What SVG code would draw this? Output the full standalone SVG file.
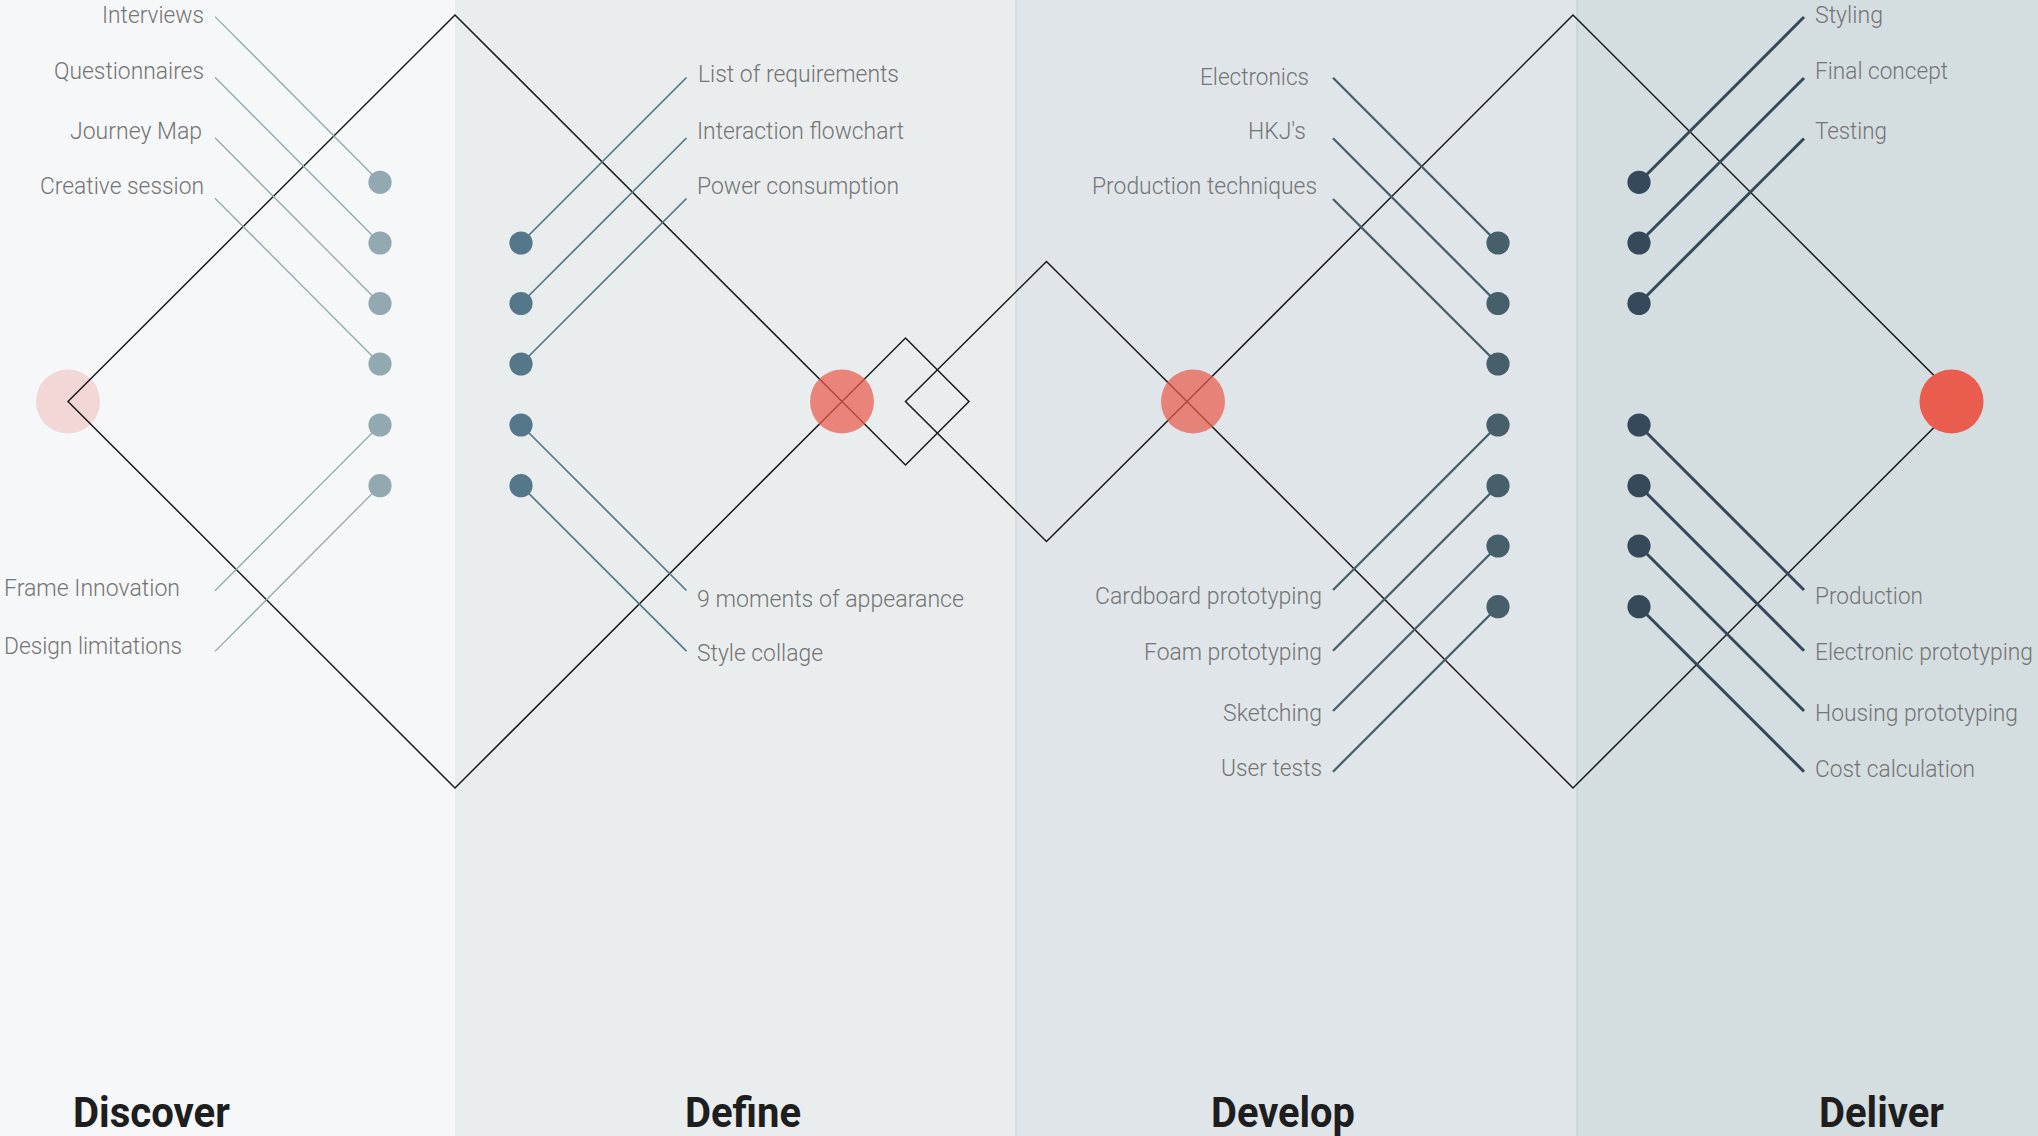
<svg xmlns="http://www.w3.org/2000/svg" width="2038" height="1136" viewBox="0 0 2038 1136">
<style>
.lbl{font-family:Roboto,"Liberation Sans",sans-serif;font-weight:300;font-size:24.5px;fill:#747474}
.end{text-anchor:end}
.ttl{font-family:Roboto,"Liberation Sans",sans-serif;font-weight:700;font-size:42px;fill:#1e1e1e}
.dia{fill:none;stroke:#1a1a1a;stroke-width:1.5;stroke-linejoin:miter}
.l1{stroke:#93a9b1;stroke-width:1.3}
.l2{stroke:#54788a;stroke-width:1.7}
.l3{stroke:#475f6b;stroke-width:2.3}
.l4{stroke:#35495a;stroke-width:3}
.d1{fill:#93a9b1}
.d2{fill:#54788a}
.d3{fill:#475f6b}
.d4{fill:#35495a}
</style>
<g id="background">
<rect x="0" y="0" width="455" height="1136" fill="#f5f7f8"/>
<rect x="455" y="0" width="561" height="1136" fill="#e9edee"/>
<rect x="1016" y="0" width="561" height="1136" fill="#dfe5e8"/>
<rect x="1577" y="0" width="461" height="1136" fill="#d4dde0"/>
<line x1="1016" y1="0" x2="1016" y2="1136" stroke="#d2dce2" stroke-width="1.5"/>
<line x1="1577" y1="0" x2="1577" y2="1136" stroke="#c8d2d7" stroke-width="1.5"/>
</g>
<g id="start-circle"><circle cx="68" cy="401.5" r="32" fill="#f3d6d6"/></g>
<g id="diamonds">
<path class="dia" d="M68,401.5 L455,15 L842,401.5 L455,788 Z"/>
<path class="dia" d="M842,401.5 L905.5,338 L969,401.5 L905.5,465 Z"/>
<path class="dia" d="M905.5,401.5 L1046.5,261.5 L1187,401.5 L1046.5,541.5 Z"/>
<path class="dia" d="M1187,401.5 L1573,15 L1960,401.5 L1573,788 Z"/>
</g>
<g id="connectors">
<line class="l1" x1="215" y1="16.6" x2="380" y2="182.3"/>
<line class="l1" x1="215" y1="77.3" x2="380" y2="243"/>
<line class="l1" x1="215" y1="137.8" x2="380" y2="303.5"/>
<line class="l1" x1="215" y1="198.3" x2="380" y2="364"/>
<line class="l1" x1="215" y1="590.7" x2="380" y2="425"/>
<line class="l1" x1="215" y1="651.4" x2="380" y2="485.7"/>
<line class="l2" x1="521" y1="243" x2="686.5" y2="77.5"/>
<line class="l2" x1="521" y1="303.5" x2="686.5" y2="138"/>
<line class="l2" x1="521" y1="364" x2="686.5" y2="198.5"/>
<line class="l2" x1="521" y1="425" x2="686.5" y2="590.5"/>
<line class="l2" x1="521" y1="485.7" x2="686.5" y2="651.2"/>
<line class="l3" x1="1333" y1="77.7" x2="1498" y2="243"/>
<line class="l3" x1="1333" y1="138.3" x2="1498" y2="303.5"/>
<line class="l3" x1="1333" y1="199" x2="1498" y2="364"/>
<line class="l3" x1="1333" y1="590" x2="1498" y2="425"/>
<line class="l3" x1="1333" y1="650.7" x2="1498" y2="485.7"/>
<line class="l3" x1="1333" y1="711" x2="1498" y2="546"/>
<line class="l3" x1="1333" y1="771.7" x2="1498" y2="606.7"/>
<line class="l4" x1="1639" y1="182.3" x2="1804" y2="17"/>
<line class="l4" x1="1639" y1="243" x2="1804" y2="78"/>
<line class="l4" x1="1639" y1="303.5" x2="1804" y2="138.5"/>
<line class="l4" x1="1639" y1="425" x2="1804" y2="590"/>
<line class="l4" x1="1639" y1="485.7" x2="1804" y2="650.7"/>
<line class="l4" x1="1639" y1="546" x2="1804" y2="711"/>
<line class="l4" x1="1639" y1="606.7" x2="1804" y2="771.7"/>
</g>
<g id="discover-nodes">
<circle class="d1" cx="380" cy="182.3" r="11.6"/>
<circle class="d1" cx="380" cy="243" r="11.6"/>
<circle class="d1" cx="380" cy="303.5" r="11.6"/>
<circle class="d1" cx="380" cy="364" r="11.6"/>
<circle class="d1" cx="380" cy="425" r="11.6"/>
<circle class="d1" cx="380" cy="485.7" r="11.6"/>
<text class="lbl end" x="204" y="23.3" textLength="102" lengthAdjust="spacingAndGlyphs">Interviews</text>
<text class="lbl end" x="204" y="78.8" textLength="150" lengthAdjust="spacingAndGlyphs">Questionnaires</text>
<text class="lbl end" x="202" y="139.3" textLength="132" lengthAdjust="spacingAndGlyphs">Journey Map</text>
<text class="lbl end" x="204" y="194.3" textLength="164" lengthAdjust="spacingAndGlyphs">Creative session</text>
<text class="lbl" x="4" y="595.7" textLength="176" lengthAdjust="spacingAndGlyphs">Frame Innovation</text>
<text class="lbl" x="4" y="654.3" textLength="178" lengthAdjust="spacingAndGlyphs">Design limitations</text>
</g>
<g id="define-nodes">
<circle class="d2" cx="521" cy="243" r="11.6"/>
<circle class="d2" cx="521" cy="303.5" r="11.6"/>
<circle class="d2" cx="521" cy="364" r="11.6"/>
<circle class="d2" cx="521" cy="425" r="11.6"/>
<circle class="d2" cx="521" cy="485.7" r="11.6"/>
<text class="lbl" x="698" y="81.7" textLength="201" lengthAdjust="spacingAndGlyphs">List of requirements</text>
<text class="lbl" x="697" y="139" textLength="207" lengthAdjust="spacingAndGlyphs">Interaction flowchart</text>
<text class="lbl" x="697" y="194.3" textLength="202" lengthAdjust="spacingAndGlyphs">Power consumption</text>
<text class="lbl" x="697" y="607.3" textLength="267" lengthAdjust="spacingAndGlyphs">9 moments of appearance</text>
<text class="lbl" x="697" y="660.7" textLength="126" lengthAdjust="spacingAndGlyphs">Style collage</text>
</g>
<g id="develop-nodes">
<circle class="d3" cx="1498" cy="243" r="11.6"/>
<circle class="d3" cx="1498" cy="303.5" r="11.6"/>
<circle class="d3" cx="1498" cy="364" r="11.6"/>
<circle class="d3" cx="1498" cy="425" r="11.6"/>
<circle class="d3" cx="1498" cy="485.7" r="11.6"/>
<circle class="d3" cx="1498" cy="546" r="11.6"/>
<circle class="d3" cx="1498" cy="606.7" r="11.6"/>
<text class="lbl end" x="1309" y="85" textLength="109" lengthAdjust="spacingAndGlyphs">Electronics</text>
<text class="lbl end" x="1306" y="139.3" textLength="58" lengthAdjust="spacingAndGlyphs">HKJ's</text>
<text class="lbl end" x="1317" y="194.3" textLength="225" lengthAdjust="spacingAndGlyphs">Production techniques</text>
<text class="lbl end" x="1322" y="604" textLength="227" lengthAdjust="spacingAndGlyphs">Cardboard prototyping</text>
<text class="lbl end" x="1322" y="660" textLength="178" lengthAdjust="spacingAndGlyphs">Foam prototyping</text>
<text class="lbl end" x="1322" y="720.7" textLength="99" lengthAdjust="spacingAndGlyphs">Sketching</text>
<text class="lbl end" x="1322" y="776" textLength="101" lengthAdjust="spacingAndGlyphs">User tests</text>
</g>
<g id="deliver-nodes">
<circle class="d4" cx="1639" cy="182.3" r="11.6"/>
<circle class="d4" cx="1639" cy="243" r="11.6"/>
<circle class="d4" cx="1639" cy="303.5" r="11.6"/>
<circle class="d4" cx="1639" cy="425" r="11.6"/>
<circle class="d4" cx="1639" cy="485.7" r="11.6"/>
<circle class="d4" cx="1639" cy="546" r="11.6"/>
<circle class="d4" cx="1639" cy="606.7" r="11.6"/>
<text class="lbl" x="1815" y="23.3" textLength="68" lengthAdjust="spacingAndGlyphs">Styling</text>
<text class="lbl" x="1815" y="79" textLength="133" lengthAdjust="spacingAndGlyphs">Final concept</text>
<text class="lbl" x="1815" y="139.3" textLength="72" lengthAdjust="spacingAndGlyphs">Testing</text>
<text class="lbl" x="1815" y="604" textLength="108" lengthAdjust="spacingAndGlyphs">Production</text>
<text class="lbl" x="1815" y="660" textLength="218" lengthAdjust="spacingAndGlyphs">Electronic prototyping</text>
<text class="lbl" x="1815" y="720.7" textLength="203" lengthAdjust="spacingAndGlyphs">Housing prototyping</text>
<text class="lbl" x="1815" y="776.7" textLength="160" lengthAdjust="spacingAndGlyphs">Cost calculation</text>
</g>
<g id="milestones">
<circle cx="842" cy="401.5" r="32" fill="#ea5c4e" fill-opacity="0.72"/>
<circle cx="1193" cy="401.5" r="32" fill="#ea5c4e" fill-opacity="0.72"/>
<circle cx="1951.5" cy="401.5" r="32" fill="#ea5c4e"/>
</g>
<g id="phase-titles">
<text class="ttl" x="73" y="1126.7" textLength="157" lengthAdjust="spacingAndGlyphs">Discover</text>
<text class="ttl" x="685" y="1126.7" textLength="116" lengthAdjust="spacingAndGlyphs">Define</text>
<text class="ttl" x="1211" y="1126.7" textLength="144" lengthAdjust="spacingAndGlyphs">Develop</text>
<text class="ttl" x="1819" y="1126.7" textLength="125" lengthAdjust="spacingAndGlyphs">Deliver</text>
</g>
</svg>
